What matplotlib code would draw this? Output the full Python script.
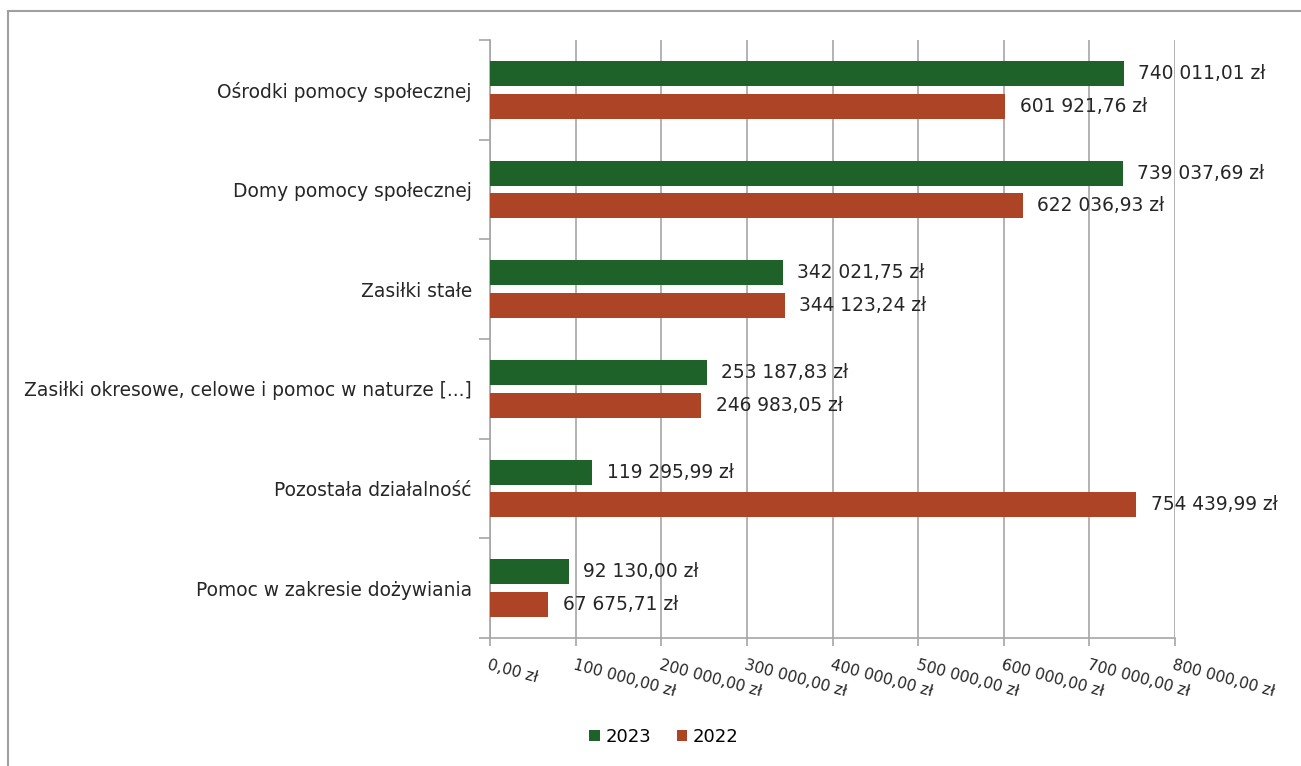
import matplotlib
matplotlib.use("Agg")
import matplotlib.pyplot as plt
from matplotlib.lines import Line2D
import numpy as np

plt.rcParams['font.family'] = ['DejaVu Sans']

categories = ["Ośrodki pomocy społecznej", "Domy pomocy społecznej", "Zasiłki stałe",
              "Zasiłki okresowe, celowe i pomoc w naturze [...]", "Pozostała działalność",
              "Pomoc w zakresie dożywiania"]
values_2023 = [740011.01, 739037.69, 342021.75, 253187.83, 119295.99, 92130.00]
values_2022 = [601921.76, 622036.93, 344123.24, 246983.05, 754439.99, 67675.71]
series_labels = ["2023", "2022"]
xticks = [0, 100000, 200000, 300000, 400000, 500000, 600000, 700000, 800000]

c23 = "#1e622a"
c22 = "#ae4426"
gridc = "#a6a6a6"
txtc = "#262626"

def fmt(v):
    s = f"{v:,.2f}"
    s = s.replace(",", " ").replace(".", ",")
    return s + " zł"

fig = plt.figure(figsize=(13.01, 7.66), dpi=100)
ax = fig.add_axes([490/1301, 1-638/766, (1175-490)/1301, (638-40)/766])

n = len(categories)
y = np.arange(n)
h = 0.25
off = 0.165
ax.barh(y - off, values_2023, height=h, color=c23, label=series_labels[0], zorder=3)
ax.barh(y + off, values_2022, height=h, color=c22, label=series_labels[1], zorder=3)

for yi, v in zip(y, values_2023):
    ax.text(v + 17000, yi - off, fmt(v), va='center', ha='left', fontsize=13.4, color=txtc, zorder=4)
for yi, v in zip(y, values_2022):
    ax.text(v + 17000, yi + off, fmt(v), va='center', ha='left', fontsize=13.4, color=txtc, zorder=4)

ax.set_xlim(0, 800000)
ax.set_ylim(n - 0.5, -0.5)
ax.set_xticks(xticks)
ax.set_xticklabels([fmt(t) if t else "0,00 zł" for t in xticks], rotation=-15,
                   ha='left', va='top', rotation_mode='anchor', fontsize=11.2, color=txtc)
ax.set_yticks(np.arange(-0.5, n, 1.0))
ax.set_yticklabels([])
ax.set_yticks(y, minor=True)
ax.set_yticklabels(categories, minor=True, fontsize=13.4, color=txtc)
ax.tick_params(axis='y', which='minor', length=0, pad=13)
ax.tick_params(axis='y', which='major', length=8, color=gridc, width=1.2)
ax.tick_params(axis='x', length=6, color=gridc, width=1.2, pad=8)
ax.grid(axis='x', color=gridc, linewidth=1.2, zorder=0)
for s in ['top', 'right']:
    ax.spines[s].set_visible(False)
for s in ['left', 'bottom']:
    ax.spines[s].set_color(gridc)
    ax.spines[s].set_linewidth(1.2)

fig.legend(loc='center', bbox_to_anchor=(664/1301, 1-737/766), ncol=2, frameon=False,
           fontsize=13, handlelength=0.6, handleheight=0.6, handletextpad=0.3,
           columnspacing=1.4)

fig.add_artist(Line2D([8/1301, 1.0], [1-11/766, 1-11/766], transform=fig.transFigure,
                      color='#a0a0a0', linewidth=1.5))
fig.add_artist(Line2D([8/1301, 8/1301], [0, 1-11/766], transform=fig.transFigure,
                      color='#a0a0a0', linewidth=1.5))

fig.savefig("out.png", dpi=100)
